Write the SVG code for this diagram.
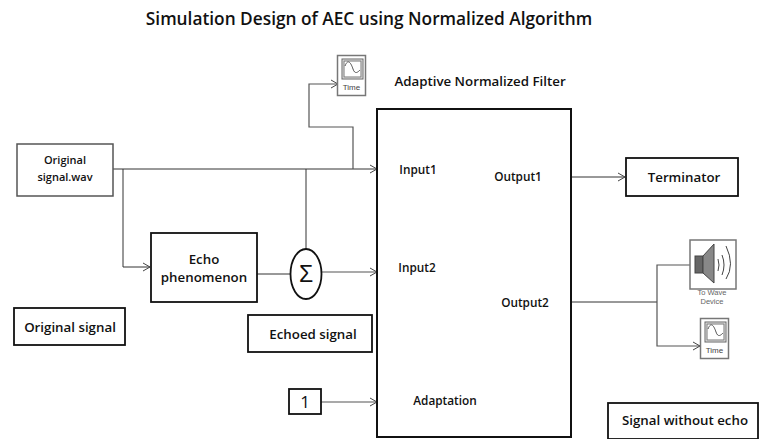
<svg xmlns="http://www.w3.org/2000/svg" width="760" height="439" viewBox="0 0 760 439">
<style>
text{font-family:"Open Sans","Noto Sans","Liberation Sans",sans-serif;fill:#111;text-anchor:middle}
.b{font-weight:600;font-size:13.300px}
.p{font-size:11.800px;font-weight:600}
.box{fill:#fff;stroke:#111;stroke-width:1.800}
.sim{fill:#fff;stroke:#777;stroke-width:1.500}
.c{fill:none;stroke:#333;stroke-width:1}
.g{fill:none;stroke:#555;stroke-width:1.200}
.ah{fill:none;stroke:#444;stroke-width:1}
.t{font-family:"Liberation Sans",sans-serif;font-size:7.500px;fill:#666}
</style>
<defs>
<marker id="a" markerWidth="9" markerHeight="10" refX="8" refY="5" orient="auto" markerUnits="userSpaceOnUse"><path d="M1 1L8 5L1 9" class="ah"/></marker>
<g id="scope">
<rect x="0.500" y="0.500" width="28" height="40" class="sim"/>
<rect x="5" y="4" width="21" height="20" fill="#e8e8e8" stroke="#666"/>
<rect x="7" y="6" width="17" height="16" fill="#fff" stroke="#777"/>
<path d="M8 11C11 3 14 8 16 14C18 20 21 17 23 15" fill="none" stroke="#555"/>
<text x="14.500" y="35" class="t" style="font-size:8px;fill:#444">Time</text>
</g>
</defs>
<text x="369" y="25" style="font-size:17.300px;font-weight:600">Simulation Design of AEC using Normalized Algorithm</text>
<g id="connectors">
<path d="M113 169H377" class="c" marker-end="url(#a)"/>
<path d="M353 169V127H309V84H338" class="g" marker-end="url(#a)"/>
<path d="M123 169V267H150" class="c" marker-end="url(#a)"/>
<path d="M306 169V249" class="c"/>
<path d="M257 274H290" class="c"/>
<path d="M322 272H377" class="g" marker-end="url(#a)"/>
<path d="M321 402H377" class="g" marker-end="url(#a)"/>
<path d="M571 177H625" class="c" marker-end="url(#a)"/>
<path d="M571 302H657" class="c"/>
<path d="M657 302V265H690" class="g"/>
<path d="M657 302V346H700" class="g" marker-end="url(#a)"/>
</g>
<g id="original-wav"><rect x="17" y="144" width="96" height="52" fill="#fff" stroke="#555" stroke-width="1.500"/><text x="65" y="164" class="p" style="font-size:11px">Original</text><text x="65" y="181" class="p" style="font-size:11px">signal.wav</text></g>
<g id="echo"><rect x="151" y="233" width="106" height="69" class="box"/><text x="204" y="264" class="b">Echo</text><text x="204" y="282" class="b">phenomenon</text></g>
<g id="sum"><ellipse cx="306" cy="274" rx="15.500" ry="25" class="box"/><text x="306" y="282" style="font-size:23px;font-weight:400;font-family:'Liberation Sans',sans-serif">Σ</text></g>
<g id="label-original"><rect x="14" y="308" width="111" height="37" class="box"/><text x="70" y="332" class="b">Original signal</text></g>
<g id="label-echoed"><rect x="248" y="315" width="124" height="37" class="box"/><text x="313" y="339" class="b">Echoed signal</text></g>
<g id="constant"><rect x="289" y="389" width="32" height="25" class="box"/><text x="305" y="408" style="font-size:17px;font-weight:400">1</text></g>
<g id="filter"><rect x="377" y="109" width="194" height="328" fill="#fff" stroke="#111" stroke-width="2"/>
<text x="418" y="174" class="p">Input1</text><text x="417" y="272" class="p">Input2</text><text x="445" y="405" class="p">Adaptation</text><text x="518" y="181" class="p">Output1</text><text x="525" y="307" class="p">Output2</text></g>
<text x="480" y="86" class="b">Adaptive Normalized Filter</text>
<g id="terminator"><rect x="626" y="158" width="112" height="38" class="box"/><text x="684" y="182" class="b">Terminator</text></g>
<g id="scope1" transform="translate(337,55)"><use href="#scope"/></g>
<g id="scope2" transform="translate(700,318)"><use href="#scope"/></g>
<g id="speaker"><rect x="690" y="240" width="46" height="49" class="sim"/>
<rect x="695" y="256" width="8" height="17" fill="#666" stroke="#444"/>
<path d="M703 256L714 244V283L703 273Z" fill="#888" stroke="#444"/>
<path d="M718 259Q720 265 718 271M722 255Q726 265 722 275M726 246Q735 265 726 279" fill="none" stroke="#444"/>
<text x="712" y="295" class="t">To Wave</text><text x="712" y="304" class="t">Device</text></g>
<g id="label-without"><rect x="608" y="403" width="150" height="36" class="box"/><text x="685" y="425" class="b">Signal without echo</text></g>
</svg>
